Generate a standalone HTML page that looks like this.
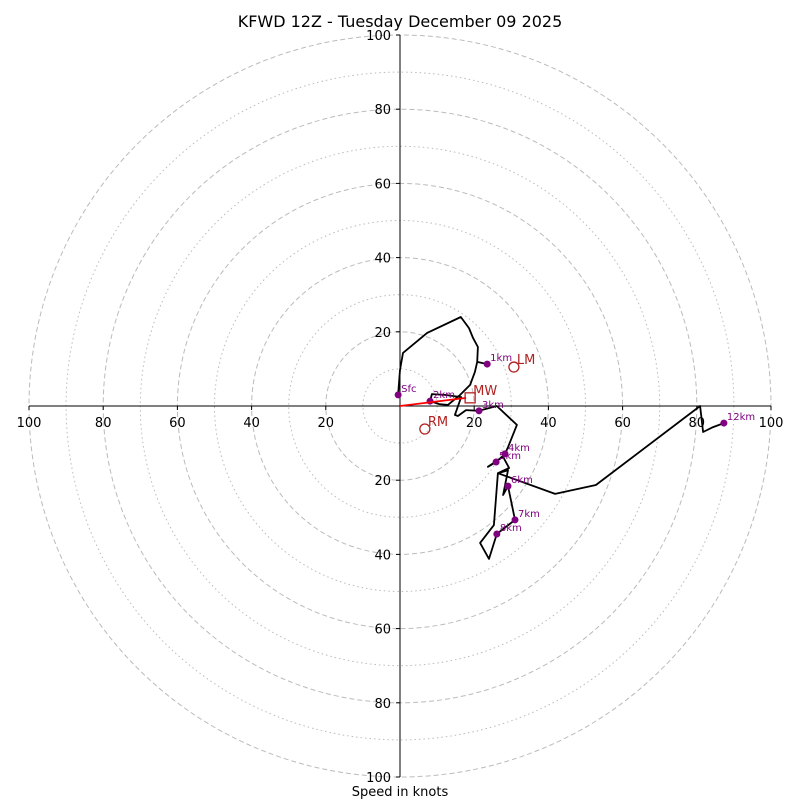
<!DOCTYPE html>
<html><head><meta charset="utf-8"><style>
body{margin:0;background:#fff}
svg text{font-family:"DejaVu Sans","Liberation Sans",sans-serif}
</style></head><body>
<svg width="800" height="800" viewBox="0 0 800 800" id="chart">
<text x="400" y="27" text-anchor="middle" font-size="16">KFWD 12Z - Tuesday December 09 2025</text>
<text x="400" y="796" text-anchor="middle" font-size="13">Speed in knots</text>
<g id="rings"></g><g id="axes"></g><g id="trace"></g><g id="marks"></g>
</svg>
<script>
const ringSpeeds=[10,20,30,40,50,60,70,80,90,100];
const tickLabels=[20,40,60,80,100];
const traceU=[-0.5,0,0.8,7.3,16.4,18.6,19.7,21.0,20.8,23.5,20.8,20.2,18.9,16.2,12.9,10.6,8.1,8.6,12.1,16.5,14.8,15.6,17.8,21.3,26.1,31.5,29.1,28.3,25.9,23.7,27.8,29.4,26.4,29.1,27.8,29.1,31.0,26.1,24.0,21.6,25.3,26.4,41.8,52.8,80.9,81.7,84.4,87.3];
const traceV=[3.0,9.7,14.3,19.7,24.0,21.0,18.3,15.9,11.9,11.3,11.9,9.2,5.7,3.0,0.3,0.5,1.3,3.2,3.0,2.4,-2.4,-2.7,-1.1,-1.3,0,-5.1,-11.1,-12.9,-15.1,-16.4,-13.7,-16.7,-18.1,-17.3,-24.0,-21.6,-30.7,-34.5,-41.2,-36.9,-32.1,-18.1,-23.7,-21.3,0,-7.0,-5.7,-4.6];
const levelNames=["Sfc","1km","2km","3km","4km","5km","6km","7km","8km","12km"];
const levelU=[-0.5,23.5,8.1,21.3,28.3,25.9,29.1,31.0,26.1,87.3];
const levelV=[3.0,11.3,1.3,-1.3,-12.9,-15.1,-21.6,-30.7,-34.5,-4.6];
const motionNames=["LM","RM","MW"];
const motionU=[30.7,6.7,18.9];
const motionV=[10.5,-6.2,2.2];
const cx=400,cy=406,k=3.71;
const X=u=>cx+u*k, Y=v=>cy-v*k;
const NS="http://www.w3.org/2000/svg";
function mk(t,a,p){const e=document.createElementNS(NS,t);for(const n in a)e.setAttribute(n,a[n]);document.getElementById(p).appendChild(e);return e;}
ringSpeeds.forEach(s=>{
 const c=mk('circle',{cx:cx,cy:cy,r:s*k,fill:'none',stroke:'#bbb','stroke-width':1,'stroke-dasharray':s%20===0?'5,3':'1.5,3'},'rings');
 
 
});
let l=mk('line',{x1:X(-100),y1:cy,x2:X(100),y2:cy,stroke:'#000'},'axes');


l=mk('line',{x1:cx,y1:Y(100),x2:cx,y2:Y(-100),stroke:'#000'},'axes');


tickLabels.forEach(s=>{
 [-1,1].forEach(d=>{
  mk('line',{x1:X(d*s),y1:cy,x2:X(d*s),y2:cy+4,stroke:'#000'},'axes');
  const t=mk('text',{x:X(d*s),y:cy+21,'text-anchor':'middle','font-size':13},'axes');t.textContent=s;
  
  
  mk('line',{x1:cx-4,y1:Y(d*s),x2:cx,y2:Y(d*s),stroke:'#000'},'axes');
  const t2=mk('text',{x:cx-9,y:Y(d*s)+5,'text-anchor':'end','font-size':13},'axes');t2.textContent=s;
  
  
 });
});
const pts=traceU.map((u,i)=>X(u).toFixed(1)+','+Y(traceV[i]).toFixed(1)).join(' ');
const pl=mk('polyline',{points:pts,fill:'none',stroke:'#000','stroke-width':1.8,'stroke-linejoin':'round'},'trace');


levelNames.forEach((n,i)=>{
 const c=mk('circle',{cx:X(levelU[i]),cy:Y(levelV[i]),r:3.5,fill:'#800080'},'marks');
 
 
 const t=mk('text',{x:X(levelU[i])+3,y:Y(levelV[i])-3,'font-size':10,fill:'#800080'},'marks');t.textContent=n;
 
 
});
const mw=2;
const ar=mk('line',{x1:cx,y1:cy,x2:X(motionU[mw])-4,y2:Y(motionV[mw]),stroke:'#f00','stroke-width':1.8},'marks');


motionNames.forEach((n,i)=>{
 const x=X(motionU[i]),y=Y(motionV[i]);
 let e;
 if(n==='MW') e=mk('rect',{x:x-5,y:y-5,width:10,height:10,fill:'none',stroke:'#b22222','stroke-width':1.3},'marks');
 else e=mk('circle',{cx:x,cy:y,r:5,fill:'none',stroke:'#b22222','stroke-width':1.3},'marks');
 
 
 const t=mk('text',{x:x+3,y:y-3,'font-size':13,fill:'#b22222'},'marks');t.textContent=n;
 
 
});
</script>
</body></html>
